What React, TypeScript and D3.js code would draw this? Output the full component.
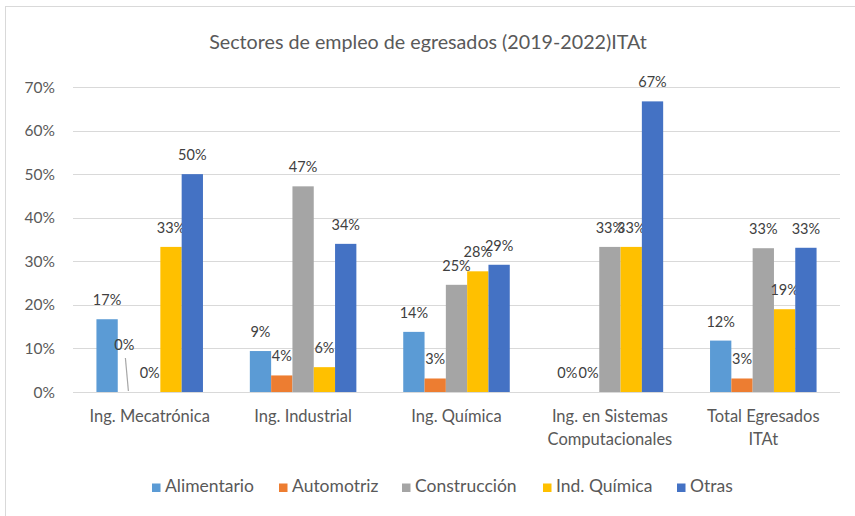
import React from "react";
import * as d3 from "d3";

const categories: string[][] = [
  ["Ing. Mecatrónica"],
  ["Ing. Industrial"],
  ["Ing. Química"],
  ["Ing. en Sistemas", "Computacionales"],
  ["Total Egresados", "ITAt"],
];
const seriesNames = ["Alimentario", "Automotriz", "Construcción", "Ind. Química", "Otras"];
const seriesColors = ["#5B9BD5", "#ED7D31", "#A5A5A5", "#FFC000", "#4472C4"];
const alimentario = [0.167, 0.094, 0.138, 0, 0.118];
const automotriz = [0, 0.038, 0.031, 0, 0.031];
const construccion = [0, 0.472, 0.246, 0.333, 0.33];
const indQuimica = [0.333, 0.057, 0.277, 0.333, 0.19];
const otras = [0.5, 0.34, 0.292, 0.667, 0.331];
const seriesValues = [alimentario, automotriz, construccion, indQuimica, otras];
const yTicks = [0, 0.1, 0.2, 0.3, 0.4, 0.5, 0.6, 0.7];
const title = "Sectores de empleo de egresados (2019-2022)ITAt";

const W = 855;
const H = 516;
const FONT = "Lato, 'Open Sans', sans-serif";

export default function App() {
  const x0 = d3
    .scaleBand<number>()
    .domain(categories.map((_, i) => i))
    .range([73, 840])
    .paddingInner(0)
    .paddingOuter(0);
  const x1 = d3
    .scaleBand<number>()
    .domain(seriesNames.map((_, i) => i))
    .range([0, x0.bandwidth()])
    .paddingInner(0)
    .paddingOuter(1.1);
  const y = d3.scaleLinear().domain([0, 0.7]).range([392, 87]);
  const fmt = d3.format(".0%");

  const legendTextX = [165, 292, 415, 556, 690];

  return (
    <svg
      width={W}
      height={H}
      style={{ position: "absolute", left: 0, top: 0, background: "#fff" }}
      fontFamily={FONT}
    >
      <rect x={5.5} y={6.5} width={W} height={H} fill="#fff" stroke="#D9D9D9" strokeWidth={1} />
      <text x={428} y={49} textAnchor="middle" fontSize={19.7} fill="#595959">
        {title}
      </text>
      {yTicks.map((t) => (
        <g key={t}>
          <line x1={73} x2={840} y1={Math.round(y(t)) + 0.5} y2={Math.round(y(t)) + 0.5} stroke="#D9D9D9" strokeWidth={1} />
          <text x={55} y={y(t) + 5.5} textAnchor="end" fontSize={15.5} fill="#595959">
            {fmt(t)}
          </text>
        </g>
      ))}
      {categories.map((lines, ci) => (
        <g key={ci}>
          {seriesValues.map((vals, si) => {
            const v = vals[ci];
            const bx = (x0(ci) as number) + (x1(si) as number);
            const bw = x1.bandwidth();
            const cx = bx + bw / 2;
            const special = ci === 0 && si === 1;
            return (
              <g key={si}>
                {v > 0 && (
                  <rect x={bx} y={y(v)} width={bw} height={y(0) - y(v)} fill={seriesColors[si]} />
                )}
                {special ? (
                  <g>
                    <line x1={cx - 3} y1={358} x2={cx} y2={y(0) - 1} stroke="#A6A6A6" strokeWidth={1.2} />
                    <text x={cx - 4} y={350} textAnchor="middle" fontSize={14.5} fill="#404040">
                      {fmt(v)}
                    </text>
                  </g>
                ) : (
                  <text x={cx} y={y(v) - 14} textAnchor="middle" fontSize={14.5} fill="#404040">
                    {fmt(v)}
                  </text>
                )}
              </g>
            );
          })}
          {lines.map((ln, li) => (
            <text
              key={li}
              x={(x0(ci) as number) + x0.bandwidth() / 2}
              y={422 + li * 23}
              textAnchor="middle"
              fontSize={16.5}
              fill="#595959"
            >
              {ln}
            </text>
          ))}
        </g>
      ))}
      {seriesNames.map((n, i) => (
        <g key={n}>
          <rect x={legendTextX[i] - 13} y={483.5} width={8.5} height={8.5} fill={seriesColors[i]} />
          <text x={legendTextX[i]} y={492} fontSize={17.5} fill="#595959">
            {n}
          </text>
        </g>
      ))}
    </svg>
  );
}
